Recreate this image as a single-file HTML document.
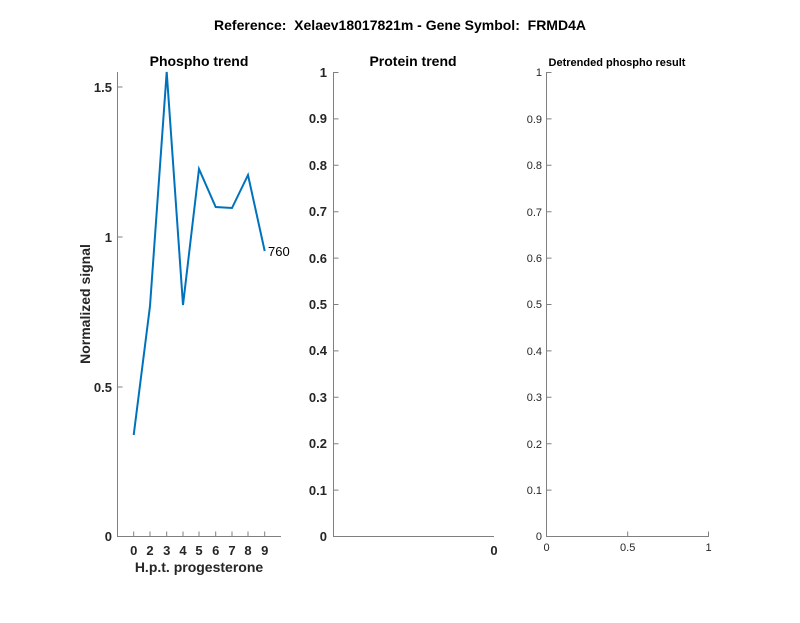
<!DOCTYPE html>
<html><head><style>body{margin:0;background:#fff}text{white-space:pre}</style></head><body>
<svg width="800" height="618" xmlns="http://www.w3.org/2000/svg" font-family="Liberation Sans, sans-serif">
<rect width="800" height="618" fill="#fff"/>
<text x="400" y="30" text-anchor="middle" font-size="14" font-weight="bold">Reference:&#160; Xelaev18017821m - Gene Symbol:&#160; FRMD4A</text>
<!-- Panel 1 -->
<text x="199" y="66" text-anchor="middle" font-size="14" font-weight="bold">Phospho trend</text>
<g stroke="#808080" stroke-width="1" fill="none">
<path d="M117.5 72V536.5H281"/>
<path d="M117.5 87h5M117.5 237h5M117.5 387h5"/>
<path d="M133.7 536.5v-5M150 536.5v-5M166.7 536.5v-5M183 536.5v-5M199 536.5v-5M215.7 536.5v-5M232 536.5v-5M248 536.5v-5M264.7 536.5v-5"/>
</g>
<g font-size="13" font-weight="bold" fill="#262626" text-anchor="end">
<text x="112" y="92">1.5</text><text x="112" y="242">1</text><text x="112" y="392">0.5</text><text x="112" y="541">0</text>
</g>
<g font-size="13" font-weight="bold" fill="#262626" text-anchor="middle">
<text x="133.7" y="555">0</text><text x="150" y="555">2</text><text x="166.7" y="555">3</text><text x="183" y="555">4</text><text x="199" y="555">5</text><text x="215.7" y="555">6</text><text x="232" y="555">7</text><text x="248" y="555">8</text><text x="264.7" y="555">9</text>
</g>
<text x="199" y="572" text-anchor="middle" font-size="14" font-weight="bold" fill="#262626">H.p.t. progesterone</text>
<text transform="translate(90,304) rotate(-90)" text-anchor="middle" font-size="14" font-weight="bold" fill="#262626">Normalized signal</text>
<polyline fill="none" stroke="#0072BD" stroke-width="2" points="133.7,435 150,306 166.7,72 183,305 199,169 215.7,207 232,208 248,175 264.7,251"/>
<text x="268" y="256" font-size="13">760</text>
<!-- Panel 2 -->
<text x="413" y="66" text-anchor="middle" font-size="14" font-weight="bold">Protein trend</text>
<g stroke="#808080" stroke-width="1" fill="none">
<path d="M333.5 72V536.5H494"/>
<path d="M333.5 72.5h5M333.5 118.9h5M333.5 165.3h5M333.5 211.7h5M333.5 258.1h5M333.5 304.5h5M333.5 350.9h5M333.5 397.3h5M333.5 443.7h5M333.5 490.1h5"/>
</g>
<g font-size="13" font-weight="bold" fill="#262626" text-anchor="end">
<text x="327" y="77">1</text><text x="327" y="123">0.9</text><text x="327" y="170">0.8</text><text x="327" y="216">0.7</text><text x="327" y="263">0.6</text><text x="327" y="309">0.5</text><text x="327" y="355">0.4</text><text x="327" y="402">0.3</text><text x="327" y="448">0.2</text><text x="327" y="495">0.1</text><text x="327" y="541">0</text>
</g>
<text x="494" y="555" text-anchor="middle" font-size="13" font-weight="bold" fill="#262626">0</text>
<!-- Panel 3 -->
<text x="617" y="66" text-anchor="middle" font-size="11" font-weight="bold">Detrended phospho result</text>
<g stroke="#808080" stroke-width="1" fill="none">
<path d="M546.5 72V536.5H709"/>
<path d="M546.5 72.5h5M546.5 118.9h5M546.5 165.3h5M546.5 211.7h5M546.5 258.1h5M546.5 304.5h5M546.5 350.9h5M546.5 397.3h5M546.5 443.7h5M546.5 490.1h5"/>
<path d="M546.5 536.5v-5M627.7 536.5v-5M708.5 536.5v-5"/>
</g>
<g font-size="11" fill="#262626" text-anchor="end">
<text x="542" y="76">1</text><text x="542" y="123">0.9</text><text x="542" y="169">0.8</text><text x="542" y="216">0.7</text><text x="542" y="262">0.6</text><text x="542" y="308">0.5</text><text x="542" y="355">0.4</text><text x="542" y="401">0.3</text><text x="542" y="448">0.2</text><text x="542" y="494">0.1</text><text x="542" y="540">0</text>
</g>
<g font-size="11" fill="#262626" text-anchor="middle">
<text x="546.5" y="551">0</text><text x="627.7" y="551">0.5</text><text x="708.5" y="551">1</text>
</g>
</svg>
</body></html>
